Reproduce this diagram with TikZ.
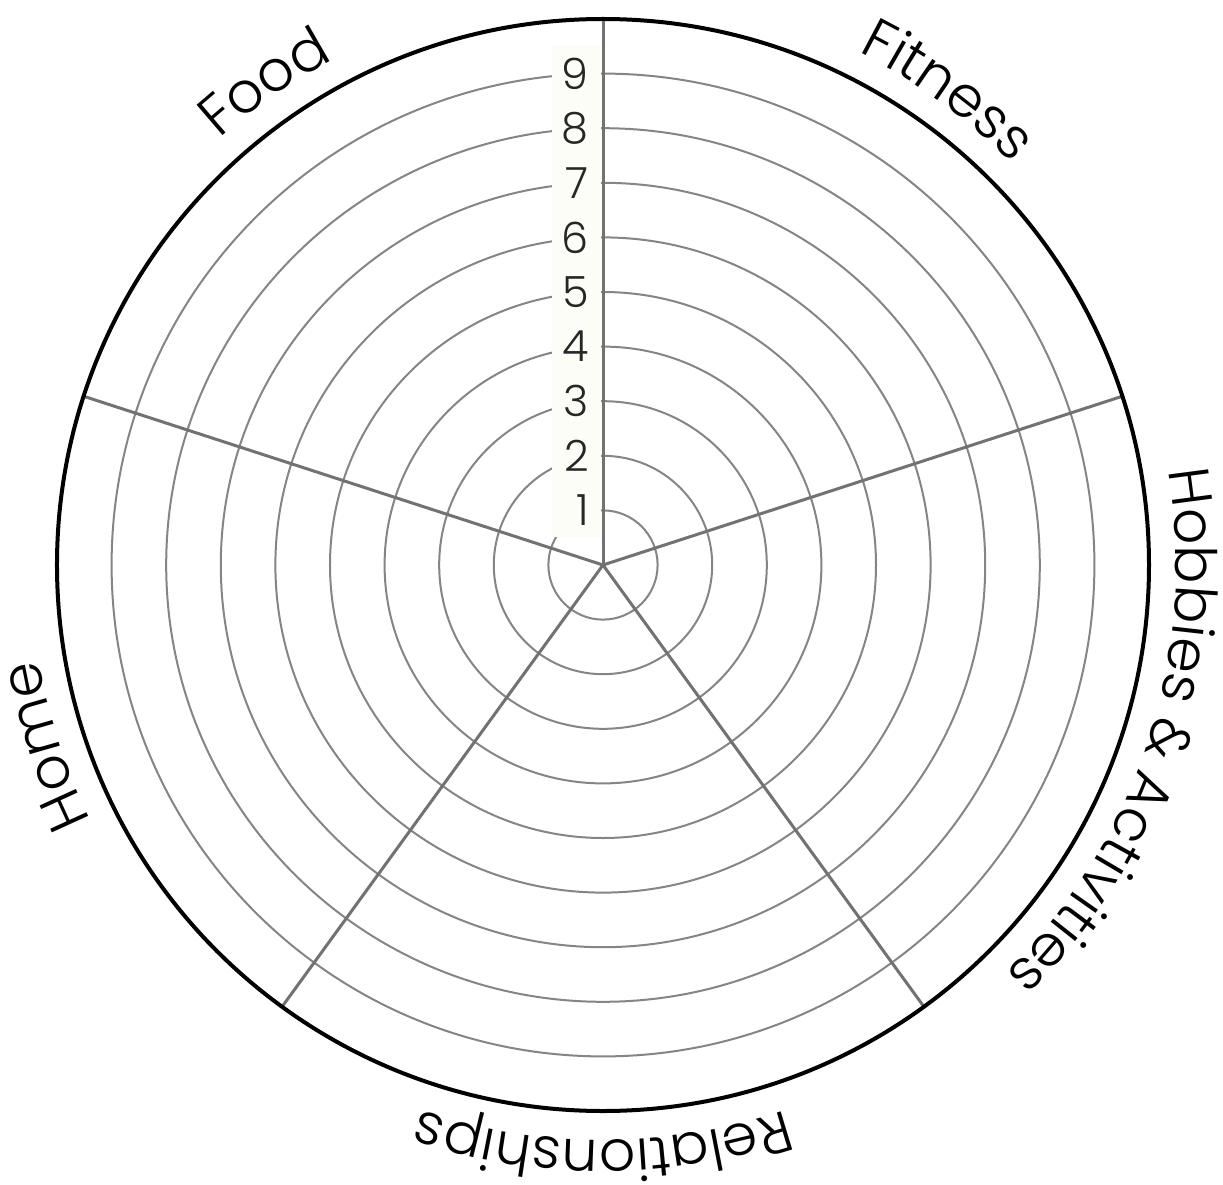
\documentclass[tikz,border=0pt]{standalone}
\usepackage{fontspec}
\setmainfont{Poppins}[UprightFont=* Light]
\usetikzlibrary{decorations.text}
\definecolor{ringgray}{HTML}{858585}
\definecolor{spokegray}{HTML}{727272}
\definecolor{colbg}{HTML}{FDFDF7}
\newcommand{\labfont}{\fontsize{57}{66}\selectfont}
\newcommand{\numfont}{\fontsize{43}{48}\selectfont}
\tikzset{
  ring/.style={draw=ringgray, line width=2pt},
  spoke/.style={draw=spokegray, line width=3pt},
  rim/.style={draw=black, line width=4pt},
  numlabel/.style={anchor=east, inner sep=0pt, font=\numfont, text=black!85},
  arclabel/.style={decorate, decoration={text along path, text align=center, text={|\labfont|#1}}}
}
\begin{document}
\begin{tikzpicture}[x=1pt,y=1pt]
\useasboundingbox (-603,-619) rectangle (620,565);
\fill[white] (-603,-619) rectangle (620,565);
\def\d{54.6}
\coordinate (c) at (0,0);
\foreach \k in {1,...,9} \path[ring] (c) circle[radius=\k*\d];
\fill[colbg] (-51,28) rectangle (-2,520);
\foreach \a/\n in {90/s1,18/s2,-54/s3,-126/s4,162/s5} {
  \coordinate (\n) at (\a:546);
  \path[spoke] (c) -- (\n);
}
\path[rim] (c) circle[radius=546];
\foreach \k in {1,...,9} \node[numlabel] (n\k) at (-14,\k*\d) {\k};
\path[arclabel={Food}] (160:573) arc[start angle=160, end angle=90, radius=573];
\path[arclabel={Fitness}] (90:573) arc[start angle=90, end angle=18, radius=573];
\path[arclabel={Hobbies {\&} Activities}] (35:573) arc[start angle=35, end angle=-71, radius=573];
\path[arclabel={Relationships}] (-30:575) arc[start angle=-30, end angle=-150, radius=575];
\path[arclabel={Home}] (240:572) arc[start angle=240, end angle=156, radius=572];
\end{tikzpicture}
\end{document}
